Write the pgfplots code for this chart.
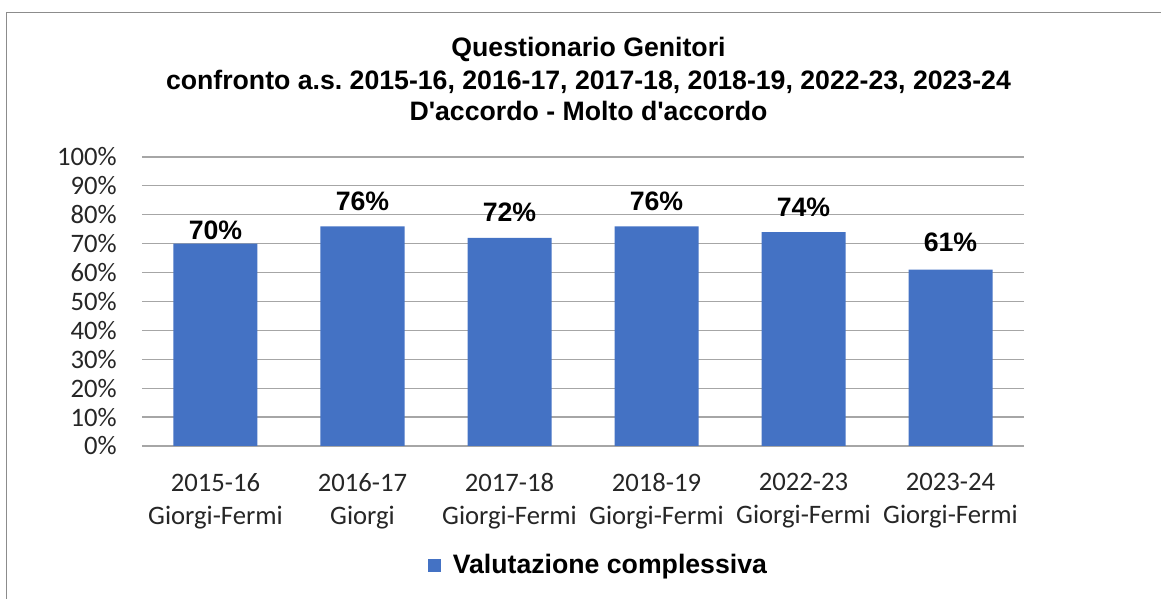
\documentclass[border=0pt]{standalone}
\usepackage{fontspec}
\setmainfont{Carlito}
\newfontfamily\lsans{Liberation Sans}
\usepackage{pgfplots}
\pgfplotsset{compat=1.18}
\usepackage{pgfplotstable}
\definecolor{barblue}{HTML}{4472C4}
\definecolor{gridgray}{HTML}{A6A6A6}
\definecolor{framegray}{HTML}{8C8C8C}
\frenchspacing

\pgfplotstableread{
x val shift
0 70 3
1 76 11.25
2 72 12
3 76 11.25
4 74 11.25
5 61 13.5
}\datatable

\begin{document}
\begin{tikzpicture}[x=0.75pt,y=0.75pt]
\useasboundingbox (0,0) rectangle (1161,599);
\draw[framegray, line width=0.75pt] (6.5,0) -- (6.5,586.5) -- (1161,586.5);
\begin{scope}[every node/.style={anchor=base, font=\lsans\bfseries\fontsize{20}{24}\selectfont, inner sep=0pt}]
\node at (588.5,542.5) {Questionario Genitori};
\node at (588.5,509.5) {confronto a.s. 2015-16, 2016-17, 2017-18, 2018-19, 2022-23, 2023-24};
\node at (588.5,478.5) {D'accordo - Molto d'accordo};
\end{scope}
\begin{axis}[
  at={(106.5pt,114.75pt)}, anchor=south west,
  scale only axis, width=661.5pt, height=216.75pt,
  xmin=-0.5, xmax=5.5, ymin=0, ymax=100,
  ytick={0,10,...,100},
  yticklabels={0\%,10\%,20\%,30\%,40\%,50\%,60\%,70\%,80\%,90\%,100\%},
  xtick={0,...,5},
  xticklabels={2015-16\\Giorgi-Fermi,2016-17\\Giorgi,2017-18\\Giorgi-Fermi,2018-19\\Giorgi-Fermi,2022-23\\Giorgi-Fermi,2023-24\\Giorgi-Fermi},
  major tick length=0pt,
  axis line style={draw=none},
  ymajorgrids, grid style={gridgray, line width=0.9pt},
  ticklabel style={font=\fontsize{20}{24.75}\selectfont, text=black!85},
  yticklabel style={anchor=east, inner sep=0pt, xshift=-18.75pt},
  xticklabel style={anchor=north, align=center, inner sep=0pt, yshift=-20.25pt},
  ybar, bar width=63pt,
  nodes near coords={\pgfmathprintnumber[assume math mode=true]{\pgfplotspointmeta}\%},
  visualization depends on={\thisrow{shift} \as \labshift},
  every node near coord/.append style={anchor=south, inner sep=0pt, yshift=\labshift pt, font=\lsans\bfseries\fontsize{20}{24}\selectfont, text=black},
  legend style={at={(0.518,-0.412)}, anchor=center, draw=none, fill=none, font=\lsans\bfseries\fontsize{20}{24}\selectfont, inner sep=0pt,
    /tikz/every odd column/.append style={column sep=6.75pt}},
]
\addplot[fill=barblue, draw=none,
  legend image code/.code={\fill[barblue] (0pt,-4.875pt) rectangle (9.75pt,4.875pt);}]
  table[x=x, y=val] {\datatable};
\addlegendentry{Valutazione complessiva}
\end{axis}
\end{tikzpicture}
\end{document}
